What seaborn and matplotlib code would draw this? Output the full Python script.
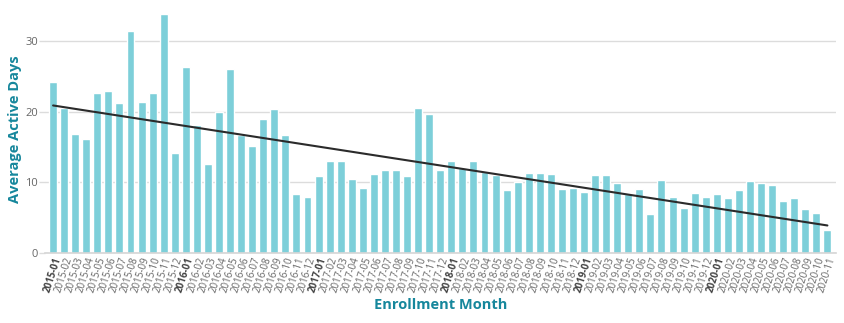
import numpy as np
import pandas as pd
import matplotlib
matplotlib.use("Agg")
import matplotlib.pyplot as plt
import seaborn as sns

months = [f"{y}-{m:02d}" for y in range(2015, 2021) for m in range(1, 13)][:71]
values = [
    24.2, 20.6, 16.9, 16.1, 22.7, 22.9, 21.2, 31.5, 21.4, 22.7, 33.8, 14.2,
    26.3, 18.1, 12.6, 20.0, 26.1, 16.7, 15.1, 19.0, 20.4, 16.7, 8.4, 8.0,
    10.9, 13.1, 13.1, 10.5, 9.2, 11.2, 11.7, 11.7, 10.9, 20.6, 19.7, 11.7,
    13.0, 12.0, 13.0, 11.5, 11.1, 8.9, 10.0, 11.4, 11.4, 11.2, 9.1, 9.2,
    8.7, 11.1, 11.1, 9.95, 8.4, 9.0, 5.5, 10.3, 8.0, 6.4, 8.5, 8.0,
    8.4, 7.8, 8.9, 10.2, 9.95, 9.7, 7.3, 7.8, 6.3, 5.6, 3.3,
]
trend_start_end = [20.9, 3.9]
yticks = [0, 10, 20, 30]

df = pd.DataFrame({"month": months, "value": values})

sns.set_theme(style="white")
plt.rcParams["font.family"] = ["Open Sans", "DejaVu Sans"]

fig = plt.figure(figsize=(8.45, 3.23), dpi=100)
ax = fig.add_axes([0.053, 0.2167, 0.936, 0.765])

bar_color = "#7dcfd9"
teal = "#16879c"

sns.barplot(data=df, x="month", y="value", color=bar_color, saturation=1,
            width=0.72, ax=ax, zorder=2)

trend = pd.DataFrame({"x": [0, len(df) - 1], "y": trend_start_end})
sns.lineplot(data=trend, x="x", y="y", color="#2b2b2b", lw=1.5, ax=ax, zorder=3)

ax.set_ylim(0, 35)
ax.set_xlim(-0.75, len(df) - 0.25)
ax.set_yticks(yticks)
ax.yaxis.grid(True, color="#dcdcdc", lw=1, zorder=0)
ax.set_axisbelow(True)
for s in ["top", "right", "left"]:
    ax.spines[s].set_visible(False)
ax.spines["bottom"].set_color("#d5d5d5")
ax.spines["bottom"].set_linewidth(1.2)

ax.tick_params(axis="y", labelsize=8, labelcolor="#666666", length=4,
               color="#dcdcdc", width=1, pad=1, left=True)
ax.tick_params(axis="x", length=0, pad=2)

ax.set_xticks(range(len(df)))
labels = ax.set_xticklabels(months, rotation=72, ha="right",
                            rotation_mode="anchor", fontsize=7, color="#666666")
for lab, m in zip(labels, months):
    if m.endswith("-01"):
        lab.set_fontweight("bold")
        lab.set_color("#444444")

ax.set_xlabel("Enrollment Month", fontsize=10.5, fontweight="bold", color=teal, labelpad=3)
ax.set_ylabel("Average Active Days", fontsize=10.5, fontweight="bold", color=teal, labelpad=2)

fig.savefig("out.png", dpi=100)
